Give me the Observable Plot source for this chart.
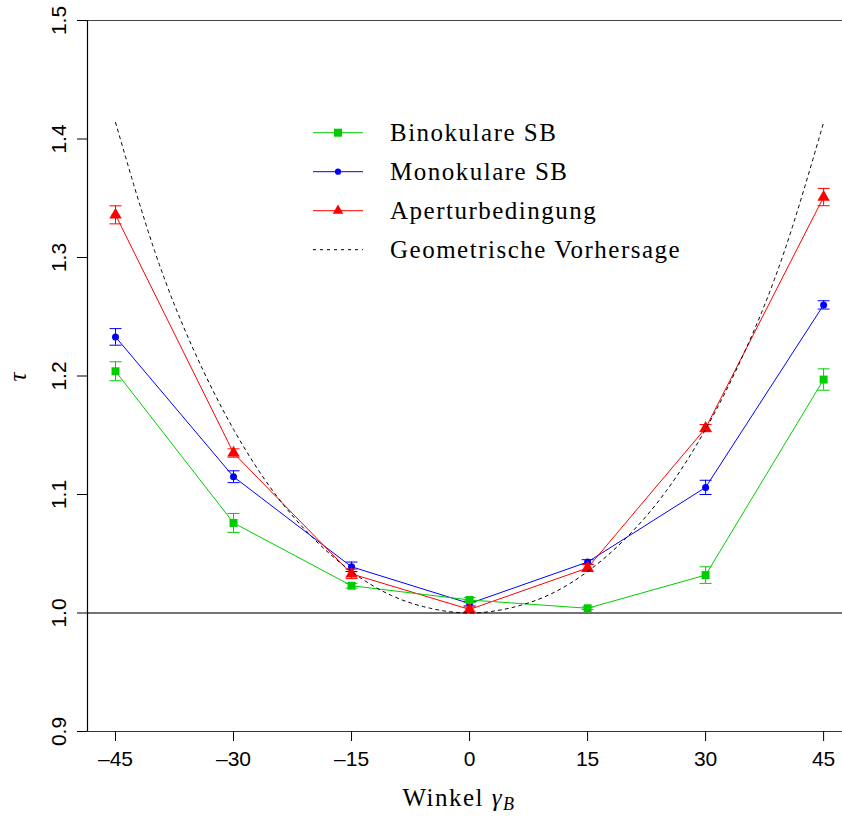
<!DOCTYPE html>
<html>
<head>
<meta charset="utf-8">
<script src="https://cdn.jsdelivr.net/npm/d3@7"></script>
<script src="https://cdn.jsdelivr.net/npm/@observablehq/plot@0.6"></script>
<style>
  html, body { margin: 0; padding: 0; background: #fff; }
  #chart { position: relative; width: 842px; height: 818px; }
  svg text.serif { font-family: "Liberation Serif", "DejaVu Serif", serif !important; }
</style>
</head>
<body>
<div id="chart"></div>
<script>
// ---- data ----
const angles = [-45, -30, -15, 0, 15, 30, 45];
const binoValues = [1.204, 1.076, 1.023, 1.011, 1.004, 1.032, 1.197];
const binoErrors = [0.008, 0.008, 0.002, 0.002, 0.001, 0.007, 0.009];
const monoValues = [1.233, 1.115, 1.039, 1.008, 1.043, 1.106, 1.260];
const monoErrors = [0.007, 0.005, 0.004, 0.002, 0.002, 0.006, 0.0035];
const aperValues = [1.336, 1.135, 1.033, 1.003, 1.038, 1.156, 1.351];
const aperErrors = [0.0076, 0.0035, 0.004, 0.002, 0.003, 0.003, 0.0073];
// dotted "geometric prediction" curve
const geoAngles = [-45, -40, -35, -30, -25, -20, -15, -10, -5, 0, 5, 10, 15, 20, 25, 30, 35, 40, 45];
const geoValues = [1.414, 1.305, 1.221, 1.155, 1.103, 1.064, 1.035, 1.015, 1.004, 1.000, 1.004, 1.015, 1.035, 1.064, 1.103, 1.155, 1.221, 1.305, 1.414];
const xTicks = [-45, -30, -15, 0, 15, 30, 45];
const yTicks = [0.9, 1.0, 1.1, 1.2, 1.3, 1.4, 1.5];
const seriesNames = ["Binokulare SB", "Monokulare SB", "Aperturbedingung", "Geometrische Vorhersage"];
const colors = {bino: "#00CD00", mono: "#0000FF", aper: "#FF0000"};

const mk = (vals, errs) => angles.map((a, i) => ({x: a, y: vals[i], e: errs[i]}));
const bino = mk(binoValues, binoErrors);
const mono = mk(monoValues, monoErrors);
const aper = mk(aperValues, aperErrors);
const geo = geoAngles.map((a, i) => ({x: a, y: geoValues[i]}));

const capSymbol = {
  draw(context, size) {
    const w = Math.sqrt(size);
    context.moveTo(-w / 2, 0);
    context.lineTo(w / 2, 0);
  }
};
const capR = 12 / Math.sqrt(Math.PI);

function seriesMarks(data, color, symbol, r) {
  return [
    Plot.line(data, {x: "x", y: "y", stroke: color, strokeWidth: 1}),
    Plot.ruleX(data, {x: "x", y1: d => d.y - d.e, y2: d => d.y + d.e, stroke: color, strokeWidth: 1}),
    Plot.dot(data, {x: "x", y: d => d.y + d.e, symbol: capSymbol, r: capR, stroke: color, strokeWidth: 1, fill: "none"}),
    Plot.dot(data, {x: "x", y: d => d.y - d.e, symbol: capSymbol, r: capR, stroke: color, strokeWidth: 1, fill: "none"}),
    Plot.dot(data, {x: "x", y: "y", symbol, r, fill: color, stroke: "none"})
  ];
}

const fmt = d => d.toFixed(1);
const xfmt = d => d < 0 ? "\u2013" + Math.abs(d) : String(d);
const xDomain = [-48.56, 47.4];

const plot = Plot.plot({
  width: 842,
  height: 818,
  marginLeft: 87,
  marginRight: 0,
  marginTop: 20,
  marginBottom: 87,
  style: {fontFamily: "'Liberation Sans', Arial, sans-serif", background: "#fff", overflow: "visible"},
  x: {domain: xDomain},
  y: {domain: [0.9, 1.5]},
  marks: [
    Plot.ruleY([1.0], {stroke: "#444", strokeWidth: 1.3}),
    Plot.ruleY([0.9], {stroke: "#333", strokeWidth: 1.2}),
    Plot.ruleY([1.5], {stroke: "#444", strokeWidth: 1}),
    Plot.ruleX([xDomain[0]], {stroke: "#000", strokeWidth: 1.2}),
    Plot.axisX({ticks: xTicks, tickSize: 10, tickPadding: 10, tickFormat: xfmt, fontSize: 21, label: null, stroke: "#000"}),
    Plot.axisY({ticks: yTicks, tickSize: 10, tickPadding: 12, tickRotate: -90, tickFormat: fmt, fontSize: 21, label: null}),
    ...seriesMarks(mono, colors.mono, "circle", 3.5),
    ...seriesMarks(aper, colors.aper, "triangle", 4.6),
    ...seriesMarks(bino, colors.bino, "square", 4.5),
    Plot.line(geo, {x: "x", y: "y", curve: "natural", stroke: "#000", strokeWidth: 1, strokeDasharray: "3,4"})
  ]
});

document.getElementById("chart").appendChild(plot);

// ---- axis titles and legend ----
const svg = d3.select(plot);

const xl = svg.append("text")
  .attr("class", "serif")
  .attr("x", 459).attr("y", 806)
  .style("text-anchor", "middle")
  .style("font-size", "25px")
  .style("letter-spacing", "1.5px")
  .attr("fill", "#000");
xl.append("tspan").text("Winkel ");
xl.append("tspan").style("font-style", "italic").text("\u03B3");
xl.append("tspan").style("font-style", "italic").style("font-size", "18px").attr("dy", 4).text("B");

svg.append("text")
  .attr("class", "serif")
  .attr("transform", "translate(26,377) rotate(-90)")
  .style("text-anchor", "middle")
  .style("font-size", "25px").style("font-style", "italic")
  .attr("fill", "#000")
  .text("\u03C4");

const leg = svg.append("g");
const rows = [
  {name: seriesNames[0], color: colors.bino, sym: d3.symbolSquare, size: 64, dash: null},
  {name: seriesNames[1], color: colors.mono, sym: d3.symbolCircle, size: 30, dash: null},
  {name: seriesNames[2], color: colors.aper, sym: d3.symbolTriangle, size: 48, dash: null},
  {name: seriesNames[3], color: "#000", sym: null, size: 0, dash: "3,4"}
];
rows.forEach((r, i) => {
  const cy = 132.7 + i * 39;
  leg.append("line").attr("x1", 313).attr("x2", 363).attr("y1", cy).attr("y2", cy)
    .attr("stroke", r.color).attr("stroke-width", 1).attr("stroke-dasharray", r.dash);
  if (r.sym) {
    leg.append("path").attr("d", d3.symbol(r.sym, r.size)())
      .attr("transform", `translate(338,${cy})`).attr("fill", r.color);
  }
  leg.append("text").attr("class", "serif").attr("x", 390).attr("y", cy + 8)
    .style("text-anchor", "start")
    .style("font-size", "25px").style("letter-spacing", "1.5px")
    .attr("fill", "#000").text(r.name);
});
</script>
</body>
</html>
